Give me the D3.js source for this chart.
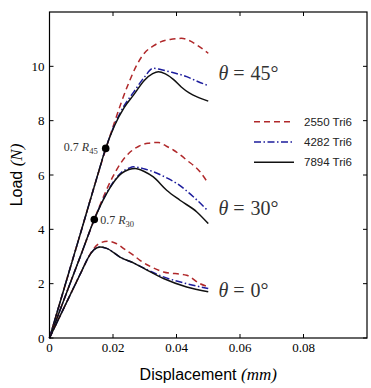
<!DOCTYPE html>
<html>
<head>
<meta charset="utf-8">
<script src="https://cdn.jsdelivr.net/npm/d3@7"></script>
<style>
  body { margin: 0; background: #fff; }
  svg { display: block; }
</style>
</head>
<body>
<div id="chart"></div>
<script>
// data: [displacement (mm), load (N)]
const xTicks = [0, 0.02, 0.04, 0.06, 0.08];
const yTicks = [0, 2, 4, 6, 8, 10];

const meshes = ["2550 Tri6", "4282 Tri6", "7894 Tri6"];

const t45_2550 = [[0,0],[0.005,1.98],[0.01,3.95],[0.015,5.93],[0.018,7.05],[0.0205,7.95],[0.0227,8.7],[0.025,9.4],[0.0275,10.05],[0.03,10.5],[0.0327,10.75],[0.035,10.9],[0.038,10.99],[0.0415,11.03],[0.044,10.95],[0.0465,10.78],[0.05,10.48]];
const t45_4282 = [[0,0],[0.005,1.98],[0.01,3.95],[0.015,5.93],[0.0177,6.98],[0.0205,7.85],[0.0235,8.55],[0.0265,9.05],[0.03,9.62],[0.0327,9.93],[0.035,9.88],[0.0385,9.78],[0.0432,9.62],[0.0465,9.45],[0.05,9.29]];
const t45_7894 = [[0,0],[0.005,1.98],[0.01,3.95],[0.015,5.93],[0.0177,6.98],[0.0205,7.82],[0.0235,8.48],[0.0265,8.95],[0.03,9.5],[0.0325,9.73],[0.0343,9.8],[0.0365,9.72],[0.039,9.52],[0.0415,9.24],[0.044,9.02],[0.047,8.85],[0.05,8.72]];

const t30_2550 = [[0,0],[0.005,1.55],[0.01,3.09],[0.0141,4.36],[0.017,5.2],[0.02,5.95],[0.0225,6.45],[0.025,6.8],[0.028,7.05],[0.031,7.17],[0.0343,7.2],[0.037,7.05],[0.039,6.92],[0.0432,6.55],[0.0474,6.12],[0.05,5.69]];
const t30_4282 = [[0,0],[0.005,1.55],[0.01,3.09],[0.0141,4.36],[0.017,5.12],[0.0196,5.65],[0.0227,6.1],[0.025,6.25],[0.0264,6.3],[0.03,6.22],[0.0327,6.12],[0.0365,5.92],[0.0401,5.69],[0.0453,5.2],[0.05,4.67]];
const t30_7894 = [[0,0],[0.005,1.55],[0.01,3.09],[0.0141,4.36],[0.017,5.1],[0.0196,5.63],[0.0227,6.06],[0.025,6.2],[0.027,6.24],[0.03,6.12],[0.0327,5.93],[0.0369,5.44],[0.0411,5.07],[0.0464,4.64],[0.05,4.21]];

const t0_2550 = [[0,0],[0.005,1.22],[0.01,2.43],[0.0123,2.98],[0.014,3.3],[0.016,3.5],[0.0185,3.56],[0.021,3.48],[0.0235,3.28],[0.0264,3.05],[0.0285,2.86],[0.032,2.62],[0.0359,2.43],[0.0432,2.31],[0.0474,2.0],[0.05,1.88]];
const t0_4282 = [[0,0],[0.005,1.22],[0.01,2.43],[0.0123,2.98],[0.014,3.25],[0.0159,3.35],[0.018,3.3],[0.0222,2.98],[0.0269,2.74],[0.031,2.5],[0.0359,2.25],[0.0432,2.0],[0.05,1.82]];
const t0_7894 = [[0,0],[0.005,1.22],[0.01,2.43],[0.0123,2.98],[0.014,3.25],[0.0159,3.35],[0.018,3.3],[0.0222,2.98],[0.0269,2.74],[0.031,2.48],[0.0359,2.19],[0.0432,1.88],[0.05,1.7]];

const marks = [{ label: "45", at: [0.0177, 6.98] }, { label: "30", at: [0.0141, 4.36] }];
const angleLabels = [{ text: "45°", y: 9.72 }, { text: "30°", y: 4.74 }, { text: "0°", y: 1.72 }];

// 1: SET GLOBAL VARIABLES
const margin = { top: 12, right: 4, bottom: 50, left: 49.5 };
const width = 371 - margin.left - margin.right;
const height = 388 - margin.top - margin.bottom;

const svg = d3.select("#chart")
    .append("svg")
    .attr("width", 371)
    .attr("height", 388)
    .append("g")
    .attr("transform", `translate(${margin.left},${margin.top})`);

const xScale = d3.scaleLinear().domain([0, 0.1]).range([0, width]);
const yScale = d3.scaleLinear().domain([0, 12]).range([height, 0]);

const styles = {
    "2550 Tri6": { color: "#b0282a", dash: "6,4" },
    "4282 Tri6": { color: "#1c1c9c", dash: "7,2.5,1.5,2.5" },
    "7894 Tri6": { color: "#111111", dash: null }
};

const series = [
    [t45_2550, "2550 Tri6"], [t45_4282, "4282 Tri6"], [t45_7894, "7894 Tri6"],
    [t30_2550, "2550 Tri6"], [t30_4282, "4282 Tri6"], [t30_7894, "7894 Tri6"],
    [t0_2550, "2550 Tri6"], [t0_4282, "4282 Tri6"], [t0_7894, "7894 Tri6"]
];

const line = d3.line()
    .x(d => xScale(d[0]))
    .y(d => yScale(d[1]))
    .curve(d3.curveMonotoneX);

series.forEach(([data, mesh]) => {
    svg.append("path")
        .datum(data)
        .attr("fill", "none")
        .attr("stroke", styles[mesh].color)
        .attr("stroke-width", 1.5)
        .attr("stroke-dasharray", styles[mesh].dash)
        .attr("d", line);
});

// markers 0.7 R
marks.forEach(m => {
    svg.append("circle")
        .attr("cx", xScale(m.at[0]))
        .attr("cy", yScale(m.at[1]))
        .attr("r", 3.8)
        .attr("fill", "#000");
});

const serif = "'Liberation Serif', 'DejaVu Serif', serif";

function rLabel(x, y, sub, anchor) {
    const t = svg.append("text")
        .attr("x", x).attr("y", y)
        .attr("text-anchor", anchor)
        .style("font-family", serif)
        .style("font-size", "12px")
        .attr("fill", "#333");
    t.append("tspan").text("0.7 ");
    t.append("tspan").style("font-style", "italic").text("R");
    t.append("tspan").attr("dy", 3).style("font-size", "8.5px").text(sub);
}
rLabel(xScale(marks[0].at[0]) - 8, yScale(marks[0].at[1]) + 3, marks[0].label, "end");
rLabel(xScale(marks[1].at[0]) + 6, yScale(marks[1].at[1]) + 4, marks[1].label, "start");

// theta labels
angleLabels.forEach(a => {
    const t = svg.append("text")
        .attr("x", 169)
        .attr("y", yScale(a.y) + 6)
        .style("font-family", serif)
        .style("font-size", "20px")
        .attr("fill", "#333");
    t.append("tspan").style("font-style", "italic").text("θ");
    t.append("tspan").attr("dx", 5).text("=");
    t.append("tspan").attr("dx", 6).text(a.text);
});

// frame
svg.append("rect")
    .attr("width", width)
    .attr("height", height)
    .attr("fill", "none")
    .attr("stroke", "#000")
    .attr("stroke-width", 1.2);

// ticks inward on all sides
const tickLen = 4;
xTicks.forEach(t => {
    svg.append("line").attr("x1", xScale(t)).attr("x2", xScale(t))
        .attr("y1", height).attr("y2", height - tickLen).attr("stroke", "#000");
    svg.append("line").attr("x1", xScale(t)).attr("x2", xScale(t))
        .attr("y1", 0).attr("y2", tickLen).attr("stroke", "#000");
    svg.append("text")
        .attr("x", xScale(t))
        .attr("y", height + 14)
        .attr("text-anchor", "middle")
        .style("font-family", serif)
        .style("font-size", "13px")
        .text(t === 0 ? "0" : d3.format(".2f")(t));
});
yTicks.forEach(t => {
    svg.append("line").attr("x1", 0).attr("x2", tickLen)
        .attr("y1", yScale(t)).attr("y2", yScale(t)).attr("stroke", "#000");
    svg.append("line").attr("x1", width).attr("x2", width - tickLen)
        .attr("y1", yScale(t)).attr("y2", yScale(t)).attr("stroke", "#000");
    svg.append("text")
        .attr("x", -5)
        .attr("y", yScale(t) + 4.5)
        .attr("text-anchor", "end")
        .style("font-family", serif)
        .style("font-size", "13px")
        .text(t);
});

// legend
const legend = svg.append("g")
    .attr("transform", `translate(${254 - margin.left}, ${121.7 - margin.top})`);
meshes.forEach((m, i) => {
    legend.append("line")
        .attr("x1", 0).attr("x2", 40)
        .attr("y1", i * 20.3).attr("y2", i * 20.3)
        .attr("stroke", styles[m].color)
        .attr("stroke-width", 1.5)
        .attr("stroke-dasharray", styles[m].dash);
    legend.append("text")
        .attr("x", 50)
        .attr("y", i * 20.3 + 4)
        .style("font-family", "'Liberation Sans', Arial, sans-serif")
        .style("font-size", "11.5px")
        .attr("fill", "#222")
        .text(m);
});

// axis labels
const xl = svg.append("text")
    .attr("x", width / 2)
    .attr("y", height + 42)
    .attr("text-anchor", "middle")
    .style("font-size", "16px")
    .style("font-family", "'Liberation Sans', Arial, sans-serif");
xl.append("tspan").text("Displacement ");
xl.append("tspan").style("font-family", serif).style("font-style", "italic").style("font-size", "17px").text("(mm)");

const yl = svg.append("text")
    .attr("transform", "rotate(-90)")
    .attr("x", -height / 2)
    .attr("y", -27.5)
    .attr("text-anchor", "middle")
    .style("font-size", "16px")
    .style("font-family", "'Liberation Sans', Arial, sans-serif");
yl.append("tspan").text("Load ");
yl.append("tspan").style("font-family", serif).style("font-style", "italic").style("font-size", "17px").text("(N)");
</script>
</body>
</html>
